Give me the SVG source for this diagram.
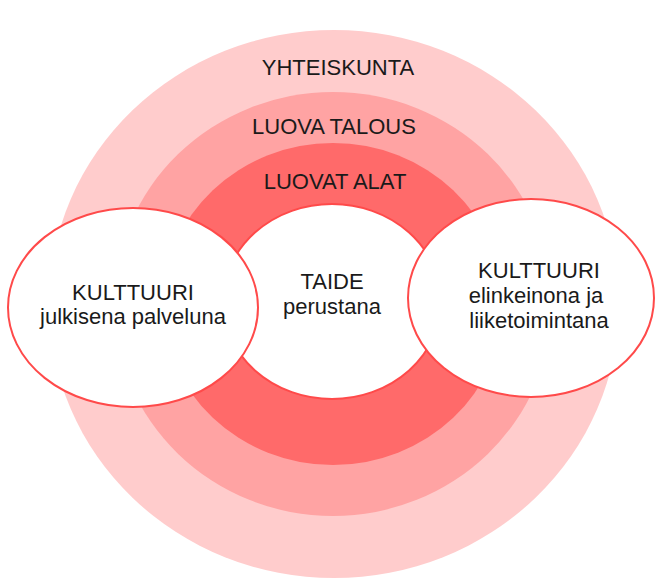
<svg xmlns="http://www.w3.org/2000/svg" width="655" height="580" viewBox="0 0 655 580">
<style>
  .t { font-family: "Liberation Sans", Arial, sans-serif; font-size: 22px; fill: #1a1a1a; text-anchor: middle; }
  .node { fill: #ffffff; stroke: #ff4a4a; stroke-width: 2; }
</style>
<rect width="655" height="580" fill="#ffffff"/>
<g id="yhteiskunta">
  <ellipse cx="334" cy="304" rx="285" ry="274" fill="#ffcccc"/>
  <text class="t" x="338" y="75">YHTEISKUNTA</text>
</g>
<g id="luova-talous">
  <ellipse cx="333" cy="304" rx="219" ry="212" fill="#ffa3a3"/>
  <text class="t" x="334" y="134">LUOVA TALOUS</text>
</g>
<g id="luovat-alat">
  <ellipse cx="333" cy="304" rx="170" ry="161" fill="#ff6a6a"/>
  <text class="t" x="335" y="189">LUOVAT ALAT</text>
</g>
<g id="taide">
  <ellipse class="node" cx="332" cy="301.5" rx="109" ry="97.5" stroke-width="1"/>
  <text class="t" x="332" y="289">TAIDE</text>
  <text class="t" x="332" y="314">perustana</text>
</g>
<g id="kulttuuri-julkinen">
  <ellipse class="node" cx="133" cy="307.5" rx="125" ry="99.5"/>
  <text class="t" x="133" y="300">KULTTUURI</text>
  <text class="t" x="133" y="324">julkisena palveluna</text>
</g>
<g id="kulttuuri-elinkeino">
  <ellipse class="node" cx="531" cy="298" rx="123" ry="99"/>
  <text class="t" x="539" y="278">KULTTUURI</text>
  <text class="t" x="536" y="303">elinkeinona ja</text>
  <text class="t" x="539" y="328">liiketoimintana</text>
</g>
</svg>
